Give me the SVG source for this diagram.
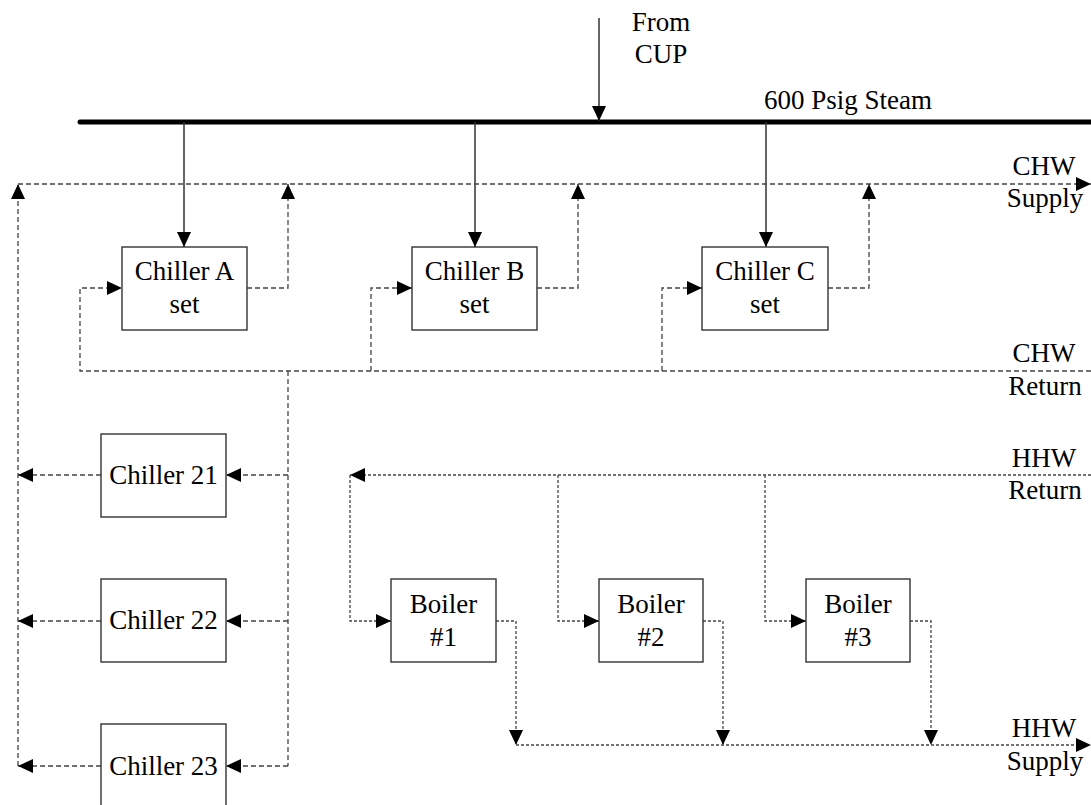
<svg xmlns="http://www.w3.org/2000/svg" width="1091" height="805" viewBox="0 0 1091 805">
<style>
text{font-family:"Liberation Serif","Times New Roman",serif;font-size:27px;fill:#000;text-anchor:middle}
.box{fill:#fff;stroke:#333;stroke-width:1.4}
.steam{fill:none;stroke:#333;stroke-width:1.5}
.chw{fill:none;stroke:#444;stroke-width:1.3;stroke-dasharray:5,3}
.hhw{fill:none;stroke:#444;stroke-width:1.3;stroke-dasharray:3,2}
</style>
<defs>
<marker id="ah" markerUnits="userSpaceOnUse" markerWidth="16" markerHeight="16" refX="15" refY="7" orient="auto">
<path d="M0,0 L15,7 L0,14 z" fill="#000"/>
</marker>
</defs>
<g id="connectors">
<line x1="80" y1="122" x2="1091" y2="122" stroke="#000" stroke-width="5" stroke-linecap="round"/>
<line class="steam" x1="599" y1="18" x2="599" y2="121" marker-end="url(#ah)"/>
<line class="steam" x1="184" y1="122" x2="184" y2="247" marker-end="url(#ah)"/>
<line class="steam" x1="475" y1="122" x2="475" y2="247" marker-end="url(#ah)"/>
<line class="steam" x1="766" y1="122" x2="766" y2="247" marker-end="url(#ah)"/>
<!-- CHW supply -->
<polyline class="chw" points="18,766 18,184" marker-end="url(#ah)"/>
<polyline class="chw" points="18,184 1091,184" marker-end="url(#ah)"/>
<polyline class="chw" points="247,288 288,288 288,184" marker-end="url(#ah)"/>
<polyline class="chw" points="537,288 578,288 578,184" marker-end="url(#ah)"/>
<polyline class="chw" points="828,288 869,288 869,184" marker-end="url(#ah)"/>
<!-- CHW return -->
<polyline class="chw" points="1091,371 80,371 80,288 122,288" marker-end="url(#ah)"/>
<polyline class="chw" points="371,371 371,288 412,288" marker-end="url(#ah)"/>
<polyline class="chw" points="662,371 662,288 702,288" marker-end="url(#ah)"/>
<polyline class="chw" points="288,371 288,766"/>
<polyline class="chw" points="288,475 226,475" marker-end="url(#ah)"/>
<polyline class="chw" points="288,621 226,621" marker-end="url(#ah)"/>
<polyline class="chw" points="288,766 226,766" marker-end="url(#ah)"/>
<polyline class="chw" points="101,475 18,475" marker-end="url(#ah)"/>
<polyline class="chw" points="101,621 18,621" marker-end="url(#ah)"/>
<polyline class="chw" points="101,766 18,766" marker-end="url(#ah)"/>
<!-- HHW return -->
<polyline class="hhw" points="1091,475 350,475" marker-end="url(#ah)"/>
<polyline class="hhw" points="350,475 350,621 391,621" marker-end="url(#ah)"/>
<polyline class="hhw" points="558,475 558,621 599,621" marker-end="url(#ah)"/>
<polyline class="hhw" points="765,475 765,621 806,621" marker-end="url(#ah)"/>
<!-- HHW supply -->
<polyline class="hhw" points="496,621 516,621 516,745" marker-end="url(#ah)"/>
<polyline class="hhw" points="703,621 723,621 723,745" marker-end="url(#ah)"/>
<polyline class="hhw" points="910,621 931,621 931,745" marker-end="url(#ah)"/>
<polyline class="hhw" points="516,745 1091,745" marker-end="url(#ah)"/>
</g>
<g id="labels">
<text x="661" y="31">From</text>
<text x="661" y="63">CUP</text>
<text x="848" y="109">600 Psig Steam</text>
<text x="1044" y="175">CHW</text>
<text x="1045" y="207">Supply</text>
<text x="1044" y="362">CHW</text>
<text x="1045" y="395">Return</text>
<text x="1044" y="467">HHW</text>
<text x="1045" y="499">Return</text>
<text x="1044" y="737">HHW</text>
<text x="1045" y="770">Supply</text>
</g>
<g id="chillerA"><rect class="box" x="122" y="247" width="125" height="83"/><text x="184.5" y="280">Chiller A</text><text x="184.5" y="313">set</text></g>
<g id="chillerB"><rect class="box" x="412" y="247" width="125" height="83"/><text x="474.5" y="280">Chiller B</text><text x="474.5" y="313">set</text></g>
<g id="chillerC"><rect class="box" x="702" y="247" width="126" height="83"/><text x="765" y="280">Chiller C</text><text x="765" y="313">set</text></g>
<g id="chiller21"><rect class="box" x="101" y="434" width="125" height="83"/><text x="163.5" y="484">Chiller 21</text></g>
<g id="chiller22"><rect class="box" x="101" y="579" width="125" height="83"/><text x="163.5" y="629">Chiller 22</text></g>
<g id="chiller23"><rect class="box" x="101" y="724" width="125" height="83"/><text x="163.5" y="775">Chiller 23</text></g>
<g id="boiler1"><rect class="box" x="391" y="579" width="105" height="83"/><text x="443.5" y="613">Boiler</text><text x="443.5" y="646">#1</text></g>
<g id="boiler2"><rect class="box" x="599" y="579" width="104" height="83"/><text x="651" y="613">Boiler</text><text x="651" y="646">#2</text></g>
<g id="boiler3"><rect class="box" x="806" y="579" width="104" height="83"/><text x="858" y="613">Boiler</text><text x="858" y="646">#3</text></g>
</svg>
